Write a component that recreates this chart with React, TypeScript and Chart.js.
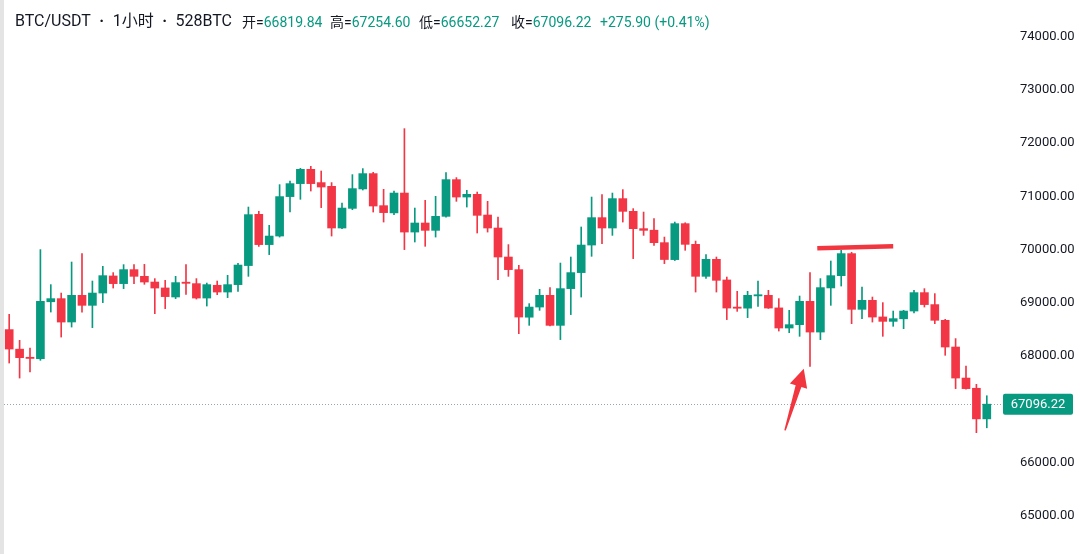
import React, { useEffect, useRef } from 'react';
import { Chart, registerables } from 'chart.js';

Chart.register(...registerables);

// ---- data (hourly candles, BTC/USDT) ----
const categories: string[] = Array.from({ length: 95 }, (_, i) => `${i + 1}`);

const opens = [
  68497, 68130, 67975, 67950, 69020, 69079, 68640, 69141, 68953, 69184,
  69505, 69361, 69624, 69498, 69391, 69280, 69110, 69385, 69361, 69090,
  69330, 69203, 69342, 69700, 70663, 70094, 70255, 70996, 71240, 71509,
  71259, 71189, 70406, 70775, 71140, 71428, 70826, 70690, 71063, 70330,
  70500, 70362, 70625, 71315, 70988, 71039, 70650, 70406, 69861, 69624,
  68730, 68921, 69141, 68577, 69267, 69568, 70086, 70601, 70406, 70958,
  70719, 70394, 70365, 70131, 69812, 70488, 70099, 69498, 69818, 69430,
  68910, 68900, 69130, 69141, 68905, 68527, 68590, 69028, 68451, 69280,
  69511, 69925, 68878, 69047, 68735, 68652, 68700, 68846, 69192, 68967,
  68672, 68170, 67587, 67395, 66819.84,
];

const highs = [
  68784, 68296, 68150, 70000, 69342, 69184, 69767, 69925, 69410, 69686,
  69568, 69718, 69718, 69723, 69455, 69423, 69498, 69718, 69455, 69372,
  69410, 69517, 69740, 70800, 70720, 70456, 71221, 71289, 71527, 71565,
  71477, 71259, 70875, 71409, 71522, 71452, 71133, 71101, 72273, 70781,
  70926, 71001, 71447, 71353, 71114, 71082, 70907, 70612, 70094, 69705,
  68985, 69254, 69286, 69748, 69861, 70425, 70988, 71033, 71063, 71127,
  70770, 70706, 70582, 70236, 70518, 70505, 70161, 69908, 69861, 69485,
  69216, 69216, 69410, 69235, 69079, 68859, 69128, 69568, 69455, 69786,
  69987, 69950, 69297, 69109, 69004, 68846, 68859, 69235, 69267, 69173,
  68690, 68328, 67813, 67469, 67254.6,
];

const lows = [
  67869, 67587, 67700, 67920, 68827, 68357, 68545, 68827, 68534, 69004,
  69278, 69267, 69361, 69348, 68797, 68891, 69079, 69160, 69071, 68940,
  69154, 69098, 69216, 69498, 70060, 69906, 70236, 70706, 70945, 71101,
  70789, 70255, 70395, 70751, 71120, 70706, 70518, 70657, 70000, 70143,
  70062, 70236, 70610, 70907, 70800, 70312, 70330, 69436, 69498, 68421,
  68577, 68859, 68565, 68309, 68779, 69109, 69874, 70112, 70268, 70518,
  69831, 70268, 70080, 69737, 69795, 69987, 69203, 69460, 69203, 68685,
  68840, 68722, 68934, 68895, 68470, 68440, 68371, 67807, 68309, 68953,
  69316, 68609, 68703, 68639, 68371, 68559, 68515, 68809, 68921, 68609,
  68014, 67388, 67380, 66561, 66652.27,
];

const closes = [
  68132, 67970, 67955, 69028, 69079, 68639, 69141, 68953, 69184, 69511,
  69361, 69624, 69498, 69391, 69278, 69117, 69380, 69366, 69090, 69342,
  69203, 69342, 69710, 70657, 70094, 70255, 70996, 71240, 71509, 71240,
  71176, 70406, 70781, 71146, 71428, 70819, 70695, 71063, 70330, 70500,
  70362, 70625, 71315, 70988, 71039, 70644, 70406, 69861, 69624, 68733,
  68921, 69141, 68577, 69267, 69568, 70086, 70601, 70406, 70958, 70719,
  70394, 70362, 70131, 69814, 70488, 70099, 69498, 69818, 69423, 68902,
  68898, 69141, 69145, 68902, 68527, 68590, 69028, 68451, 69286, 69511,
  69925, 68878, 69047, 68733, 68652, 68703, 68846, 69192, 68967, 68672,
  68170, 67587, 67388, 66819.84, 67096.22,
];

const yTickValues = [65000, 66000, 68000, 69000, 70000, 71000, 72000, 73000, 74000];
const yMin = 64281;
const yMax = 74690;
const lastPrice = 67096.22;

const headerTitleParts = ['BTC/USDT', '1小时', '528BTC'];
const headerLabels = ['开=', '高=', '低=', '收='];
const headerValues = ['66819.84', '67254.60', '66652.27', '67096.22'];
const headerChange = '+275.90 (+0.41%)';

// hand-drawn annotations, in data coordinates (category index, price)
const resistanceLine = { fromIndex: 77.7, fromValue: 70024, toIndex: 85.0, toValue: 70062 };
const arrowMark = { fromIndex: 74.6, fromValue: 66604, toIndex: 76.4, toValue: 67760 };

const UP = '#089981';
const DOWN = '#f23645';
const MARK = '#f2363f';
const TEXT = '#131722';

export default function App() {
  const ref = useRef<HTMLCanvasElement>(null);

  useEffect(() => {
    document.body.style.margin = '0';
    const colors = opens.map((o, i) => (closes[i] >= o ? UP : DOWN));

    const overlay = {
      id: 'overlay',
      beforeDatasetsDraw(chart: any) {
        const { ctx, scales, chartArea } = chart;
        const py = Math.round(scales.y.getPixelForValue(lastPrice)) + 0.5;
        ctx.save();
        ctx.strokeStyle = '#9aa4ac';
        ctx.lineWidth = 1;
        ctx.setLineDash([1, 2]);
        ctx.beginPath();
        ctx.moveTo(0, py);
        ctx.lineTo(chartArea.right + 10, py);
        ctx.stroke();
        ctx.restore();
      },
      afterDatasetsDraw(chart: any) {
        const { ctx, scales } = chart;
        const { x, y } = scales;
        ctx.save();
        // resistance line
        ctx.strokeStyle = MARK;
        ctx.lineWidth = 4.5;
        ctx.beginPath();
        ctx.moveTo(x.getPixelForValue(resistanceLine.fromIndex), y.getPixelForValue(resistanceLine.fromValue));
        ctx.lineTo(x.getPixelForValue(resistanceLine.toIndex), y.getPixelForValue(resistanceLine.toValue));
        ctx.stroke();
        // arrow
        const tx = x.getPixelForValue(arrowMark.fromIndex);
        const ty = y.getPixelForValue(arrowMark.fromValue);
        const hx = x.getPixelForValue(arrowMark.toIndex);
        const hy = y.getPixelForValue(arrowMark.toValue);
        const len = Math.hypot(hx - tx, hy - ty);
        const dx = (hx - tx) / len, dy = (hy - ty) / len;
        const nx = -dy, ny = dx;
        const headLen = 18;
        const bx = hx - dx * headLen, by = hy - dy * headLen;
        ctx.fillStyle = MARK;
        ctx.beginPath();
        ctx.moveTo(tx + nx * 0.8, ty + ny * 0.8);
        ctx.lineTo(bx + nx * 3, by + ny * 3);
        ctx.lineTo(bx + nx * 9, by + ny * 9);
        ctx.lineTo(hx, hy);
        ctx.lineTo(bx - nx * 9, by - ny * 9);
        ctx.lineTo(bx - nx * 3, by - ny * 3);
        ctx.lineTo(tx - nx * 0.8, ty - ny * 0.8);
        ctx.closePath();
        ctx.fill();
        ctx.restore();
      },
      afterDraw(chart: any) {
        const { ctx, scales, chartArea } = chart;
        const py = scales.y.getPixelForValue(lastPrice);
        const bx = chartArea.right + 11;
        const bw = 70, bh = 21;
        ctx.save();
        ctx.fillStyle = UP;
        ctx.beginPath();
        (ctx as any).roundRect(bx, py - bh / 2, bw, bh, 2);
        ctx.fill();
        ctx.fillStyle = '#ffffff';
        ctx.font = '13px Roboto';
        ctx.textAlign = 'center';
        ctx.textBaseline = 'middle';
        ctx.fillText(lastPrice.toFixed(2), bx + bw / 2, py + 0.5);
        ctx.restore();
      },
    };

    const chart = new Chart(ref.current as HTMLCanvasElement, {
      type: 'bar',
      data: {
        labels: categories,
        datasets: [
          {
            data: opens.map((o, i) => [o, closes[i]]) as any,
            backgroundColor: colors,
            borderWidth: 0,
            barThickness: 8,
            minBarLength: 1.2,
            grouped: false,
            order: 0,
          } as any,
          {
            data: lows.map((l, i) => [l, highs[i]]) as any,
            backgroundColor: colors,
            borderWidth: 0,
            barThickness: 1,
            grouped: false,
            order: 1,
          } as any,
        ],
      },
      options: {
        animation: false,
        responsive: false,
        maintainAspectRatio: false,
        layout: { padding: 0 },
        plugins: { legend: { display: false }, tooltip: { enabled: false } },
        scales: {
          x: { display: false, offset: true, grid: { display: false } },
          y: {
            position: 'right',
            min: yMin,
            max: yMax,
            grid: { display: false },
            border: { display: false },
            afterBuildTicks: (s: any) => {
              s.ticks = yTickValues.map((v) => ({ value: v }));
            },
            afterFit: (s: any) => {
              s.width = 88;
              s.paddingTop = 0;
              s.paddingBottom = 0;
            },
            ticks: {
              padding: 20,
              color: TEXT,
              font: { family: 'Roboto', size: 13 },
              callback: (v: any) => Number(v).toFixed(2),
            },
          },
        },
      },
      plugins: [overlay],
    } as any);

    return () => chart.destroy();
  }, []);

  const spanBase: React.CSSProperties = {
    position: 'absolute',
    top: 12,
    lineHeight: '20px',
    fontFamily: "Roboto, 'Noto Sans CJK SC', sans-serif",
    fontSize: 14,
    whiteSpace: 'nowrap',
    color: TEXT,
  };
  const valueLefts = [238, 326, 415, 507];
  const dot: React.CSSProperties = { margin: '0 8.5px', fontWeight: 'bold' };

  return (
    <div style={{ position: 'relative', width: 1076, height: 554, borderLeft: '4px solid #e4e4e4', background: '#fff' }}>
      <canvas ref={ref} width={1076} height={554} style={{ display: 'block' }} />
      <span style={{ ...spanBase, left: 11, top: 11, fontSize: 16 }}>
        {headerTitleParts[0]}
        <span style={dot}>·</span>
        {headerTitleParts[1]}
        <span style={dot}>·</span>
        {headerTitleParts[2]}
      </span>
      {headerLabels.map((lab, i) => (
        <span key={lab} style={{ ...spanBase, left: valueLefts[i] }}>
          {lab}
          <span style={{ color: UP }}>{headerValues[i]}</span>
        </span>
      ))}
      <span style={{ ...spanBase, left: 596, color: UP }}>{headerChange}</span>
    </div>
  );
}
